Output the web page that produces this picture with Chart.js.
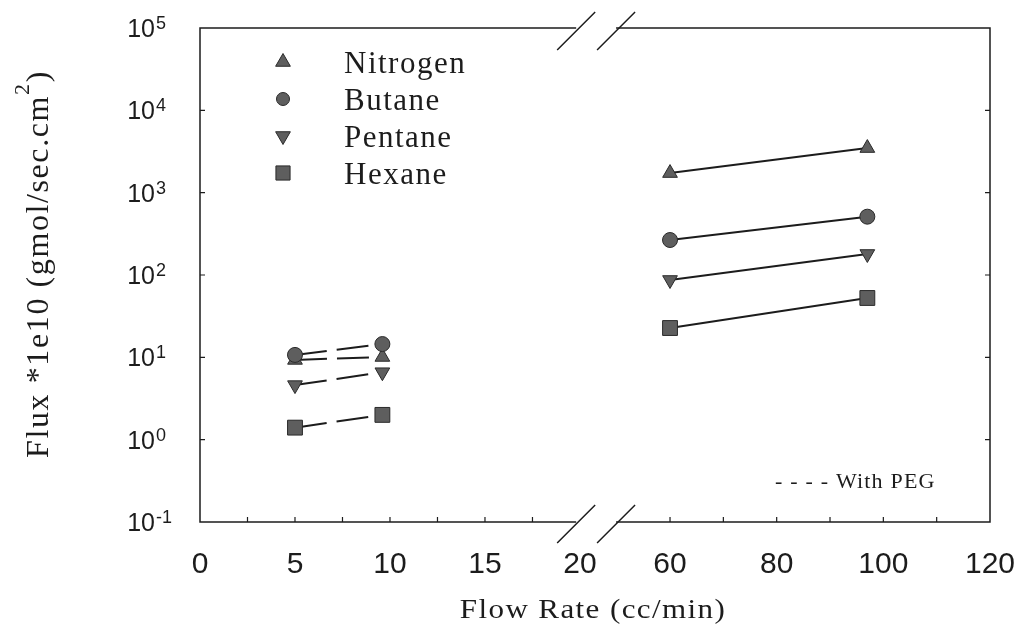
<!DOCTYPE html>
<html>
<head>
<title>Flux vs Flow Rate</title>
<script src="https://cdn.jsdelivr.net/npm/chart.js"></script>
<style>
  body { margin: 0; background: #fff; }
</style>
</head>
<body>
<canvas id="fluxChart" width="1028" height="630"></canvas>
<script>
// flow rates (cc/min): with PEG (low range) and without (high range)
var flowPEG = [5, 9.6];
var flowBare = [60, 97];

// flux *1e10 (gmol/sec.cm2) with PEG
var nitrogenPEG = [9.3, 10.1];
var butanePEG = [10.7, 14.5];
var pentanePEG = [4.6, 6.6];
var hexanePEG = [1.4, 2.0];

// flux *1e10 (gmol/sec.cm2) without PEG
var nitrogenBare = [1730, 3480];
var butaneBare = [266, 511];
var pentaneBare = [87, 180];
var hexaneBare = [22.7, 52.6];

var gasNames = ['Nitrogen', 'Butane', 'Pentane', 'Hexane'];
var xTicksLow = [0, 5, 10, 15, 20];
var xTicksHigh = [60, 80, 100, 120];
var yExponents = [-1, 0, 1, 2, 3, 4, 5];

var ink = '#1c1c1c';
var markerFill = '#5e5e5e';
var markerEdge = '#2a2a2a';
var serif = '"Liberation Serif", "Times New Roman", serif';
var sans = '"Liberation Sans", Arial, sans-serif';

// broken x axis: 0-20 at full scale, 60-120 squeezed in after the break
function brokenX(v) {
  return v <= 20 ? v : 24.74 + (v - 60) * 0.2807;
}

var markers = [
  {style: 'triangle', rotation: 0, radius: 8.5, legend: 8.5},
  {style: 'circle', rotation: 0, radius: 7.5, legend: 6.5},
  {style: 'triangle', rotation: 180, radius: 8.5, legend: 8.5},
  {style: 'rect', rotation: 0, radius: 10.5, legend: 10}
];
var pegSeries = [nitrogenPEG, butanePEG, pentanePEG, hexanePEG];
var bareSeries = [nitrogenBare, butaneBare, pentaneBare, hexaneBare];

function buildPoints(peg, bare) {
  var pts = [];
  flowPEG.forEach(function (f, i) { pts.push({x: brokenX(f), y: peg[i]}); });
  flowBare.forEach(function (f, i) { pts.push({x: brokenX(f), y: bare[i]}); });
  return pts;
}

var datasets = gasNames.map(function (name, i) {
  return {
    label: name,
    data: buildPoints(pegSeries[i], bareSeries[i]),
    order: i === 1 ? 0 : i + 1,
    borderColor: ink,
    borderWidth: 2,
    tension: 0,
    pointStyle: markers[i].style,
    pointRotation: markers[i].rotation,
    pointRadius: markers[i].radius,
    pointBackgroundColor: markerFill,
    pointBorderColor: markerEdge,
    pointBorderWidth: 1,
    segment: {
      // dashed with PEG, nothing across the break, solid without PEG
      borderColor: function (c) { return c.p0DataIndex === 1 ? 'rgba(0,0,0,0)' : undefined; },
      borderDash: function (c) { return c.p0DataIndex === 0 ? [32, 10] : undefined; }
    }
  };
});

// frame, break marks, ticks, labels and legend
var axisDecor = {
  id: 'axisDecor',
  afterDraw: function (chart) {
    var c = chart.ctx, a = chart.chartArea;
    var xs = chart.scales.x, ys = chart.scales.y;
    var px = function (v) { return xs.getPixelForValue(brokenX(v)); };
    var breakL = xs.getPixelForValue(19.8);
    var breakR = xs.getPixelForValue(21.9);

    c.save();
    c.strokeStyle = ink;
    c.lineWidth = 1.5;
    c.beginPath();
    c.moveTo(breakL, a.top); c.lineTo(a.left, a.top); c.lineTo(a.left, a.bottom); c.lineTo(breakL, a.bottom);
    c.moveTo(breakR, a.top); c.lineTo(a.right, a.top); c.lineTo(a.right, a.bottom); c.lineTo(breakR, a.bottom);
    c.stroke();

    c.beginPath();
    [breakL, breakR].forEach(function (bx) {
      [a.top + 3, a.bottom + 2].forEach(function (by) {
        c.moveTo(bx - 19, by + 19);
        c.lineTo(bx + 19, by - 19);
      });
    });
    c.stroke();

    // inward ticks
    c.lineWidth = 1.2;
    c.beginPath();
    var t;
    for (t = 2.5; t < 20; t += 2.5) { c.moveTo(px(t), a.bottom); c.lineTo(px(t), a.bottom - 5); }
    for (t = 60; t < 120; t += 10) { c.moveTo(px(t), a.bottom); c.lineTo(px(t), a.bottom - 5); }
    yExponents.forEach(function (e) {
      if (e <= -1 || e >= 5) return;
      var y = ys.getPixelForValue(Math.pow(10, e));
      c.moveTo(a.left, y); c.lineTo(a.left + 5, y);
      c.moveTo(a.right, y); c.lineTo(a.right - 5, y);
    });
    c.stroke();

    // y tick labels 10^n
    c.fillStyle = ink;
    c.textBaseline = 'alphabetic';
    yExponents.forEach(function (e) {
      var y = ys.getPixelForValue(Math.pow(10, e));
      c.font = '25px ' + sans;
      c.textAlign = 'right';
      c.fillText('10', 155, y + 9);
      c.font = '18px ' + sans;
      c.textAlign = 'left';
      c.fillText(String(e), 156, y + 1);
    });

    // x tick labels
    c.font = '30px ' + sans;
    c.textAlign = 'center';
    xTicksLow.concat(xTicksHigh).forEach(function (v) {
      c.fillText(String(v), px(v), a.bottom + 51);
    });

    // x title, slightly widened
    c.save();
    c.translate((a.left + a.right) / 2 - 2, 618);
    c.scale(1.15, 1);
    c.font = '27px ' + serif;
    c.letterSpacing = '1.2px';
    c.fillText('Flow Rate (cc/min)', 0, 0);
    c.restore();

    // y title, rotated, with raised 2
    c.save();
    c.translate(48, 264);
    c.rotate(-Math.PI / 2);
    c.textAlign = 'left';
    c.letterSpacing = '1.6px';
    c.font = '32px ' + serif;
    var head = 'Flux *1e10 (gmol/sec.cm';
    var wHead = c.measureText(head).width;
    var wTail = c.measureText(')').width;
    c.font = '22px ' + serif;
    var wSup = c.measureText('2').width;
    var x0 = -(wHead + wSup + wTail) / 2;
    c.fillText('2', x0 + wHead, -19);
    c.font = '32px ' + serif;
    c.fillText(head, x0, 0);
    c.fillText(')', x0 + wHead + wSup, 0);
    c.restore();

    // legend
    gasNames.forEach(function (name, i) {
      var y = 62 + i * 37;
      c.fillStyle = markerFill;
      c.strokeStyle = markerEdge;
      c.lineWidth = 1;
      Chart.helpers.drawPoint(c, {
        pointStyle: markers[i].style,
        rotation: markers[i].rotation,
        radius: markers[i].legend,
        borderWidth: 1
      }, 283, y);
      c.fillStyle = ink;
      c.font = '31px ' + serif;
      c.letterSpacing = '1.5px';
      c.textAlign = 'left';
      c.fillText(name, 344, y + 11);
    });

    // line style note
    c.font = '22px ' + serif;
    c.letterSpacing = '1.2px';
    c.fillText('- - - - With PEG', 775, 488);
    c.letterSpacing = '0px';
    c.restore();
  }
};

new Chart(document.getElementById('fluxChart'), {
  type: 'line',
  data: { datasets: datasets },
  options: {
    responsive: false,
    animation: false,
    layout: { padding: { left: 200, right: 38, top: 28, bottom: 108 } },
    scales: {
      x: { type: 'linear', min: 0, max: brokenX(120), display: false },
      y: { type: 'logarithmic', min: 0.1, max: 100000, display: false }
    },
    plugins: {
      legend: { display: false },
      tooltip: { enabled: false }
    }
  },
  plugins: [axisDecor]
});
</script>
</body>
</html>
